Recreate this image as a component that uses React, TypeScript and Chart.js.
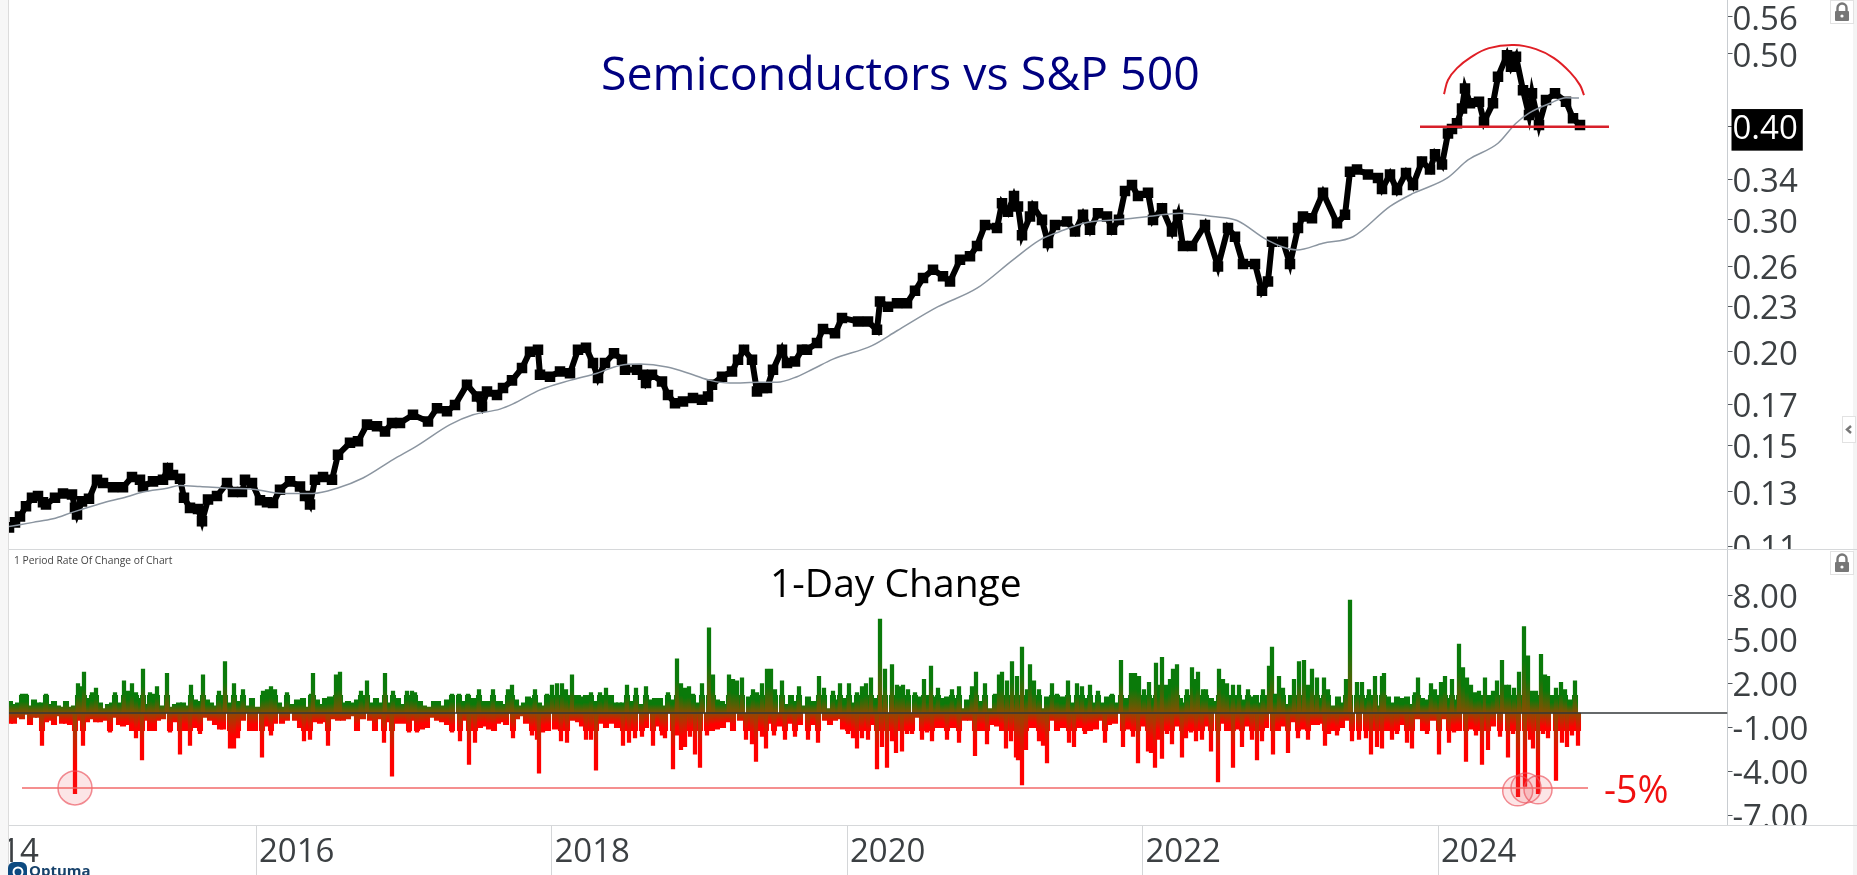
import React, { useEffect, useRef } from "react";
import { Chart, registerables } from "chart.js";

Chart.register(...registerables);

// x positions are session indexes on the chart's time axis
const yearTickLabels = ["2014", "2016", "2018", "2020", "2022", "2024"];
const yearTickSessions = [-39.5, 256, 551.5, 847, 1142.5, 1438];
const firstSession = 9;
const lastSession = 1727.5;

const priceTicks = [0.56, 0.5, 0.4, 0.34, 0.3, 0.26, 0.23, 0.2, 0.17, 0.15, 0.13, 0.11];
const changeTicks = [8, 5, 2, -1, -4, -7];

const ratioSeries: [number, number][] = [
  [9,.1165],[15,.1183],[20,.1205],[26,.1243],[32,.1276],[38,.1283],[43,.1259],[46,.1250],[55,.1276],[63,.1293],[72,.1289],[75,.1237],[77,.1212],[82,.1262],[89,.1272],[97,.1349],[103,.1335],[113,.1318],[123,.1318],[132,.1360],[140,.1349],[143,.1321],[153,.1342],[163,.1349],[168,.1398],[173,.1369],[180,.1353],[184,.1276],[190,.1237],[198,.1233],[202,.1187],[208,.1269],[217,.1283],[227,.1335],[233,.1299],[242,.1299],[245,.1349],[252,.1335],[260,.1266],[267,.1259],[273,.1256],[280,.1308],[290,.1342],[300,.1321],[305,.1283],[310,.1250],[315,.1349],[323,.1360],[332,.1349],[338,.1457],[350,.1511],[358,.1518],[367,.1598],[377,.1590],[385,.1565],[392,.1606],[400,.1606],[413,.1647],[428,.1614],[437,.1681],[447,.1665],[455,.1698],[467,.1807],[477,.1743],[482,.1690],[487,.1769],[497,.1751],
  [503,.1788],[512,.1831],[522,.1902],[530,.2000],[538,.2012],[540,.1863],[550,.1852],[560,.1882],[570,.1872],[578,.2012],[586,.2024],[593,.1931],[598,.1845],[605,.1931],[614,.1991],[622,.1951],[625,.1892],[637,.1892],[643,.1863],[646,.1816],[652,.1863],[662,.1825],[668,.1751],[675,.1707],[683,.1716],[693,.1735],[702,.1725],[708,.1743],[712,.1807],[722,.1852],[732,.1882],[738,.1951],[744,.2012],[752,.1951],[757,.1769],[763,.1788],[767,.1788],[773,.1892],[782,.2012],[787,.1931],[795,.1941],[802,.2012],[807,.2012],[817,.2054],[823,.2145],[835,.2116],[842,.2219],[858,.2195],[868,.2195],[877,.2139],[880,.2334],[888,.2297],[897,.2322],[907,.2322],[915,.2412],[923,.2508],[933,.2574],[943,.2522],[950,.2482],[960,.2653],[970,.2682],[977,.2769],[985,.2954],[997,.2925],[1002,.3158],[1008,.3077],[1014,.3228],[1018,.3127],[1022,.2861],[1030,.3031],[1033,.3127],[1042,.3000],[1048,.2795],[1055,.2954],[1067,.2985],[1075,.2895],[1083,.3047],[1090,.2910],[1098,.3062],[1107,.3031],[1112,.2910],[1119,.3000],[1125,.3278],[1132,.3339],[1138,.3228],[1148,.3260],[1153,.3000],[1162,.3108],[1172,.2895],[1178,.3047],[1183,.2769],[1192,.2769],[1205,.2954],[1218,.2599],[1228,.2925],[1235,.2848],[1243,.2620],[1255,.2620],[1262,.2412],[1268,.2482],[1272,.2805],[1283,.2805],[1290,.2620],[1298,.2925],[1303,.3031],[1312,.3015],[1323,.3260],[1337,.2970],[1345,.3047],[1350,.3478],[1357,.3503],[1368,.3450],[1378,.3413],[1382,.3300],[1390,.3450],[1397,.3288],[1406,.3466],[1413,.3339],[1422,.3590],[1430,.3503],[1435,.3670],[1442,.3558],[1448,.3914],[1452,.3968],[1457,.4039],[1462,.4226],[1465,.4495],[1470,.4294],[1479,.4315],[1484,.4058],[1493,.4294],[1498,.4660],[1507,.4979],[1511,.4805],[1516,.4954],[1523,.4471],[1529,.4142],[1532,.4427],[1539,.4016],[1546,.4337],[1555,.4427],[1566,.4315],[1573,.4100],[1580,.4016],
];

const averageSeries: [number, number][] = [
  [9,.1168],[33,.1183],[53,.1196],[73,.1221],[100,.1253],[127,.1280],[143,.1299],[167,.1314],[180,.1325],[200,.1321],[227,.1314],[253,.1310],[283,.1293],[313,.1293],[337,.1314],[363,.1356],[393,.1435],[417,.1497],[450,.1598],[473,.1647],[500,.1676],[513,.1703],[540,.1778],[570,.1831],[597,.1872],[620,.1917],[640,.1925],[667,.1908],[693,.1863],[710,.1831],[730,.1816],[760,.1820],[777,.1820],[797,.1852],[813,.1896],[833,.1955],[872,.2038],[897,.2133],[938,.2297],[977,.2431],[1013,.2653],[1040,.2821],[1060,.2895],[1087,.2976],[1117,.3000],[1153,.3037],[1180,.3062],[1213,.3031],[1237,.2994],[1267,.2821],[1297,.2735],[1323,.2792],[1353,.2848],[1390,.3127],[1413,.3254],[1447,.3410],[1468,.3607],[1498,.3797],[1516,.4039],[1529,.4167],[1550,.4294],[1566,.4368],[1579,.4364],
];

const domeArc: [number, number][] = [
  [1444,.4417],[1448,.4612],[1457,.4784],[1471,.4950],[1489,.5088],[1514,.5136],[1536,.5072],[1554,.4934],[1570,.4726],[1580,.4541],[1584,.4404],
];
const necklineSessions = [1420, 1609];
const necklineLevel = 0.3994;

const gainBars: [number, number][] = [
  [10,.8],[14,.6],[18,.7],[22,1.3],[26,1.3],[30,.5],[34,.9],[38,.7],[42,.7],[46,1.3],[50,.6],[54,.8],[58,.5],[62,.4],[66,.8],[70,.4],[74,.5],[78,2.0],[82,1.8],[84,2.8],[88,1.0],[92,1.4],[96,1.7],[100,.7],[104,.3],[108,.6],[112,.7],[115,1.4],[119,.7],[124,2.2],[128,1.5],[132,2.0],[136,1.4],[140,1.0],[143,3.0],[147,.6],[150,1.4],[154,1.3],[157,1.8],[162,.5],[167,2.7],[171,.4],[175,.6],[179,.7],[183,.7],[187,.5],[191,1.9],[195,.9],[199,.8],[203,2.6],[207,.9],[211,.7],[215,.5],[219,1.5],[223,.5],[225,3.5],[230,.7],[234,2.0],[238,.8],[243,1.6],[247,.5],[252,1.0],[257,.4],[263,1.5],[267,1.6],[271,1.8],[275,1.6],[279,.7],[283,.4],[287,1.4],[291,.6],[297,.9],[303,1.0],[307,.4],[311,1.3],[313,2.7],[317,.9],[320,.6],[325,1.0],[330,1.1],[336,2.6],[340,2.8],[343,.7],[348,.8],[353,.7],[357,.9],[361,1.5],[367,2.2],[371,.7],[376,1.0],[380,.7],[385,2.7],[389,.7],[393,1.5],[398,1.0],[403,.6],[407,1.5],[412,1.5],[415,1.4],[420,.8],[424,.5],[430,.4],[434,.8],[438,.8],[443,.5],[447,.9],[452,1.3],[459,1.3],[464,.8],[468,1.3],[473,1.0],[479,1.6],[483,.8],[488,.8],[493,1.6],[497,.8],
  [500,.8],[504,.6],[508,1.6],[512,1.9],[516,.9],[520,.5],[524,.7],[528,1.1],[532,1.0],[535,1.6],[539,.7],[543,.5],[547,1.3],[552,1.9],[557,2.0],[562,2.0],[566,1.6],[572,2.6],[575,.7],[578,1.2],[582,1.1],[586,1.2],[591,1.4],[595,.8],[600,1.4],[606,1.7],[611,1.2],[615,.7],[619,.7],[623,.7],[627,1.9],[632,.8],[636,1.7],[640,.6],[646,1.8],[650,.9],[655,1.0],[660,1.0],[664,.5],[668,1.4],[672,.9],[677,3.7],[681,2.0],[685,1.7],[689,1.8],[693,1.3],[697,.7],[702,2.0],[709,5.8],[713,2.6],[717,.9],[722,.8],[725,.6],[729,2.6],[733,2.3],[737,2.2],[742,2.4],[749,1.1],[753,1.6],[757,1.4],[762,2.0],[767,3.0],[771,3.0],[775,1.6],[782,2.2],[786,.6],[791,1.2],[795,.8],[799,1.8],[803,.5],[808,1.1],[813,.8],[819,2.5],
  [824,1.7],[828,.3],[833,1.5],[837,.9],[840,2.0],[844,1.0],[849,2.0],[853,.7],[857,1.4],[862,1.8],[866,2.0],[871,2.4],[875,1.0],[880,6.4],[885,3.0],[892,3.3],[897,1.9],[899,1.8],[903,1.9],[908,1.6],[915,1.4],[920,1.1],[924,2.3],[928,1.2],[931,3.2],[934,1.1],[938,1.7],[943,1.0],[947,1.1],[952,1.6],[957,1.0],[959,1.8],[963,.3],[967,.9],[972,1.8],[976,2.8],[980,.8],[985,2.0],[990,.3],[995,1.3],[999,2.6],[1002,2.8],[1007,2.2],[1012,3.5],[1017,2.5],[1022,4.5],[1027,1.6],[1030,3.3],[1034,2.2],[1039,1.6],[1043,.3],[1047,1.1],[1052,2.0],[1057,1.3],[1062,1.1],[1068,2.2],[1072,.7],[1077,2.0],[1082,1.8],[1086,1.0],[1090,1.9],[1095,.7],[1098,1.5],[1103,.7],[1107,1.1],[1112,1.3],[1117,.7],[1121,3.6],[1125,1.0],[1131,2.7],[1135,2.7],[1139,2.5],
  [1144,1.6],[1149,2.1],[1152,1.0],[1156,3.4],[1159,1.9],[1162,3.8],[1166,1.9],[1170,2.3],[1173,3.0],[1177,3.3],[1180,1.0],[1183,.7],[1187,1.6],[1192,3.1],[1195,2.3],[1198,2.8],[1203,1.6],[1206,1.6],[1211,1.0],[1215,.8],[1219,3.0],[1223,2.3],[1227,2.0],[1229,1.0],[1233,1.9],[1239,1.9],[1244,.9],[1248,1.6],[1252,1.1],[1256,1.2],[1260,.7],[1263,1.6],[1269,3.2],[1272,4.5],[1275,1.3],[1279,2.5],[1283,1.7],[1287,.6],[1291,1.2],[1294,2.3],[1299,3.5],[1304,3.6],[1308,1.9],[1312,3.0],[1317,2.4],[1319,1.0],[1324,2.4],[1328,1.6],[1333,.5],[1338,1.1],[1342,.7],[1346,2.3],[1350,7.7],[1357,2.1],[1362,2.1],[1366,1.0],[1369,1.6],[1375,2.5],[1378,.5],[1382,2.5],[1384,2.7],[1388,1.1],[1393,.7],[1397,1.1],[1402,1.0],[1407,1.1],[1412,.6],[1415,1.4],[1418,2.4],[1422,1.0],[1427,.9],[1431,2.0],[1435,1.6],[1441,2.1],[1445,2.5],[1448,1.0],[1452,2.3],[1457,.9],
  [1459,4.7],[1463,3.1],[1467,2.4],[1471,1.9],[1475,1.4],[1479,1.5],[1485,2.4],[1488,1.2],[1493,1.5],[1497,2.2],[1502,3.6],[1506,1.9],[1509,1.9],[1514,1.7],[1519,2.8],[1524,5.9],[1528,3.9],[1532,1.5],[1536,1.5],[1541,4.0],[1545,2.6],[1548,2.5],[1552,1.2],[1556,1.7],[1561,2.1],[1565,1.6],[1569,.9],[1575,2.2],
];

const lossBars: [number, number][] = [
  [10,-.7],[14,-.7],[18,-.3],[22,-.4],[26,-.1],[30,-.8],[34,-.3],[38,-.3],[42,-2.2],[46,-.6],[50,-.5],[54,-.8],[58,-.2],[62,-.7],[66,-.7],[70,-.8],[75,-5.5],[78,-.5],[83,-2.2],[87,-.6],[91,-.4],[96,-.6],[100,-.6],[104,-.5],[110,-1.3],[115,-.3],[119,-.8],[123,-.9],[128,-.8],[132,-1.2],[136,-1.7],[142,-3.2],[147,-.5],[150,-1.2],[154,-1.2],[158,-.5],[163,-.4],[170,-1.3],[174,-.6],[180,-2.8],[184,-1.2],[190,-2.2],[195,-1.0],[200,-1.4],[205,-.3],[210,-.5],[215,-.8],[220,-1.1],[223,-1.1],[230,-2.4],[234,-2.4],[238,-1.7],[243,-.5],[250,-1.2],[255,-1.2],[262,-3.0],[267,-.9],[271,-1.5],[275,-.7],[282,-.7],[287,-.5],[295,-.5],[300,-1.0],[304,-1.9],[310,-1.8],[315,-.6],[320,-.7],[323,-.6],[328,-2.2],[333,-.4],[338,-.5],[343,-.5],[348,-.4],[353,-.2],[357,-1.2],[363,-.4],[370,-.5],[375,-1.2],[380,-.4],[384,-2.0],[388,-.6],[392,-4.3],[397,-.7],[403,-.7],[409,-1.3],[413,-.5],[417,-1.3],[422,-1.1],[427,-1.0],[432,-.3],[437,-.5],[442,-.6],[447,-.8],[452,-1.3],[460,-1.9],[465,-.5],[469,-3.5],[475,-2.0],[480,-1.0],[485,-.9],[489,-1.1],[494,-1.2],[498,-.7],
  [500,-.6],[506,-.8],[513,-1.7],[517,-.4],[522,-.2],[526,-.7],[532,-1.5],[537,-1.8],[539,-4.1],[543,-1.3],[548,-1.2],[555,-1.1],[561,-1.9],[567,-2.0],[572,-.5],[578,-.6],[582,-.9],[586,-1.8],[591,-1.8],[596,-3.9],[602,-.7],[606,-1.0],[612,-.7],[617,-1.0],[623,-2.2],[629,-2.0],[635,-1.7],[642,-1.6],[646,-1.0],[653,-2.2],[657,-.9],[662,-1.5],[665,-1.7],[673,-3.8],[677,-1.5],[681,-2.5],[685,-2.3],[690,-1.6],[695,-2.8],[700,-3.7],[707,-1.5],[712,-1.2],[717,-1.1],[723,-1.0],[728,-.6],[733,-1.2],[740,-.5],[746,-1.8],[752,-2.1],[756,-3.3],[762,-1.6],[766,-2.4],[770,-.7],[774,-1.5],[780,-.9],[785,-1.8],[790,-.7],[795,-1.6],[800,-.8],[808,-1.8],[813,-.8],[818,-2.0],
  [825,-.5],[830,-.8],[835,-.5],[839,-.4],[843,-1.1],[848,-1.4],[853,-1.7],[857,-2.4],[862,-1.7],[868,-1.8],[873,-.8],[877,-3.8],[882,-2.3],[887,-3.7],[892,-1.9],[896,-2.7],[902,-2.6],[907,-1.4],[912,-1.4],[917,-.3],[922,-1.8],[927,-1.3],[932,-1.9],[937,-1.0],[942,-1.0],[947,-1.8],[953,-1.0],[959,-2.0],[965,-.5],[970,-.5],[975,-2.9],[981,-1.2],[987,-2.1],[992,-.8],[997,-.9],[1002,-1.2],[1006,-2.4],[1011,-1.9],[1016,-3.0],[1018,-3.2],[1022,-4.9],[1026,-2.5],[1031,-1.0],[1036,-1.0],[1039,-1.9],[1043,-2.2],[1047,-3.4],[1052,-.5],[1057,-1.2],[1063,-1.0],[1069,-2.0],[1074,-2.3],[1079,-1.0],[1085,-1.4],[1090,-1.2],[1096,-1.1],[1101,-.5],[1105,-2.0],[1109,-.8],[1115,-.7],[1123,-2.3],[1128,-1.1],[1133,-1.6],[1138,-3.4],
  [1143,-.9],[1148,-2.6],[1151,-2.7],[1155,-3.7],[1158,-1.8],[1162,-3.1],[1167,-1.4],[1172,-2.1],[1177,-.9],[1182,-3.0],[1186,-1.7],[1191,-1.3],[1196,-1.9],[1202,-1.8],[1206,-.9],[1211,-2.6],[1218,-4.7],[1222,-.7],[1227,-1.2],[1233,-3.7],[1237,-1.1],[1242,-2.3],[1248,-.9],[1252,-1.8],[1257,-3.2],[1262,-1.9],[1266,-1.0],[1273,-2.8],[1278,-1.2],[1283,-.9],[1288,-2.7],[1293,-.6],[1298,-1.7],[1303,-1.1],[1308,-1.8],[1312,-.8],[1317,-.8],[1320,-.7],[1325,-2.2],[1329,-1.4],[1333,-1.2],[1337,-1.5],[1342,-1.0],[1347,-.5],[1352,-1.9],[1359,-1.8],[1366,-1.7],[1371,-2.8],[1377,-2.3],[1382,-2.4],[1387,-1.2],[1392,-1.8],[1397,-1.4],[1403,-.8],[1407,-2.0],[1412,-2.4],[1417,-.4],[1423,-1.2],[1427,-1.4],[1433,-.5],[1439,-2.8],[1443,-.4],[1449,-2.0],[1454,-1.3],
  [1459,-1.2],[1466,-3.3],[1470,-1.1],[1476,-1.5],[1482,-3.5],[1488,-2.5],[1493,-.9],[1500,-1.6],[1508,-3.0],[1513,-1.4],[1518,-5.7],[1525,-5.0],[1530,-1.8],[1533,-2.4],[1538,-5.5],[1543,-1.4],[1548,-1.7],[1556,-4.6],[1562,-2.0],[1567,-2.3],[1572,-1.5],[1578,-2.2],
];

const thresholdLevel = -5.1;
const thresholdSessions = [22, 1588];
const zeroSessions = [9, 1727.5];
const thresholdHits = [
  { x: 75, y: -5.1, r: 17 },
  { x: 1517.7, y: -5.3, r: 15 },
  { x: 1526, y: -5.1, r: 15 },
  { x: 1538, y: -5.23, r: 14 },
];

const FONT = "'Open Sans'";
const TICK_COLOR = "#3c4043";
const AXIS_COLOR = "#c9cdd1";
const SHOULDER = 1.2;
const pairs = (s: [number, number][]) => s.map(([x, y]) => ({ x, y }));
const tallBars = (s: [number, number][]) => pairs(s.filter(([, v]) => Math.abs(v) >= SHOULDER));
// every session keeps a wider foot near zero, which is what makes the band look solid
const barFeet = (s: [number, number][]) =>
  s.map(([x, v]) => ({ x, y: Math.max(-SHOULDER, Math.min(SHOULDER, v)) }));

function barFill(c: any) {
  if (!c.parsed) return "#0a7a0a";
  const { ctx, scales } = c.chart;
  const v = c.parsed.y;
  const s = scales.y;
  const base = s.getPixelForValue(0);
  if (!Number.isFinite(base)) return v >= 0 ? "#0a7a0a" : "#ff0000";
  if (v >= 0) {
    const g = ctx.createLinearGradient(0, base, 0, s.getPixelForValue(Math.max(0.6, v * 0.6)));
    g.addColorStop(0, "#8a4d00");
    g.addColorStop(1, "#0a7a0a");
    return g;
  }
  const g = ctx.createLinearGradient(0, base, 0, s.getPixelForValue(Math.min(-0.6, v * 0.65)));
  g.addColorStop(0, "#8f4a00");
  g.addColorStop(1, "#ff0000");
  return g;
}

// the reference clips its outer tick labels at the pane edge, so they must not reserve room
const noLabelPadding = (s: any) => {
  s._calculatePadding = () => {
    s.paddingTop = 0;
    s.paddingBottom = 0;
    s.paddingLeft = 0;
    s.paddingRight = 0;
  };
};

const valueAxis = (ticks: number[], extra: any) => ({
  position: "right",
  beforeFit: noLabelPadding,
  afterFit: (s: any) => {
    s.width = 1857 - lastSession;
  },
  afterBuildTicks: (s: any) => {
    s.ticks = ticks.map((value) => ({ value }));
  },
  border: { color: AXIS_COLOR, width: 1 },
  grid: { drawOnChartArea: false, tickLength: 5, color: "#555b60", tickWidth: 1 },
  ...extra,
});

const Lock = ({ top }: { top: number }) => (
  <div style={{ position: "absolute", left: 1830, top, width: 24, height: 24, background: "#fff", border: "1px solid #e2e2e2", boxSizing: "border-box" }}>
    <svg width="22" height="22" viewBox="0 0 22 22" style={{ display: "block" }}>
      <path d="M6.5 10V7a4.5 4.5 0 0 1 9 0v3" fill="none" stroke="#777" strokeWidth="2.4" />
      <rect x="4" y="10" width="14" height="10" rx="1" fill="#777" />
      <circle cx="11" cy="15" r="1.6" fill="#fff" />
    </svg>
  </div>
);

const Label = ({ left, top, size, color, children }: any) => (
  <div style={{ position: "absolute", left, top, fontFamily: FONT, fontSize: size, color, whiteSpace: "nowrap", lineHeight: 1 }}>{children}</div>
);

export default function App() {
  const priceRef = useRef<HTMLCanvasElement>(null);
  const changeRef = useRef<HTMLCanvasElement>(null);
  const timeRef = useRef<HTMLCanvasElement>(null);

  useEffect(() => {
    document.body.style.margin = "0";
    const shared = { responsive: false, animation: false as const, devicePixelRatio: 1, events: [] as string[], layout: { padding: { left: firstSession }, autoPadding: false } };
    const legendless = { legend: { display: false }, tooltip: { enabled: false } };
    const hiddenX = { type: "linear", min: firstSession, max: lastSession, display: false, offset: false };
    const tickFont = { family: FONT, size: 33 };

    const price = new Chart(priceRef.current!, {
      type: "line",
      data: {
        datasets: [
          { data: pairs(ratioSeries), borderColor: "#000", backgroundColor: "#000", borderWidth: 6, pointStyle: "rect", pointRadius: 3.2, borderJoinStyle: "miter", order: 3 },
          { data: pairs(averageSeries), borderColor: "#8b95a0", borderWidth: 1.5, pointRadius: 0, cubicInterpolationMode: "monotone", order: 2 },
          { data: pairs(domeArc), borderColor: "#e01f26", borderWidth: 2, pointRadius: 0, tension: 0.4, order: 1 },
          { data: necklineSessions.map((x) => ({ x, y: necklineLevel })), borderColor: "#d8202a", borderWidth: 2.5, pointRadius: 0, order: 0 },
        ],
      },
      options: {
        ...shared,
        plugins: legendless,
        scales: {
          x: hiddenX,
          y: valueAxis(priceTicks, {
            type: "logarithmic",
            min: 0.109,
            max: 0.59,
            ticks: {
              autoSkip: false,
              padding: 0,
              labelOffset: 3.5,
              font: tickFont,
              color: (c: any) => (c.tick && c.tick.value === 0.4 ? "#fff" : TICK_COLOR),
              showLabelBackdrop: (c: any) => !!c.tick && c.tick.value === 0.4,
              backdropColor: "#000",
              backdropPadding: { top: 1, bottom: 1, left: 1, right: 5 },
              callback: (v: any) => Number(v).toFixed(2),
            },
          }),
        },
      },
    } as any);

    const change = new Chart(changeRef.current!, {
      type: "bar",
      data: {
        datasets: [
          { type: "line", data: thresholdSessions.map((x) => ({ x, y: thresholdLevel })), borderColor: "#f26a6a", borderWidth: 1.5, pointRadius: 0, order: 0 },
          { type: "bubble", data: thresholdHits, backgroundColor: "rgba(235,70,80,0.14)", borderColor: "rgba(235,80,90,0.65)", borderWidth: 1.5, order: 1 },
          { type: "line", data: zeroSessions.map((x) => ({ x, y: 0 })), borderColor: "#33373a", borderWidth: 1.5, pointRadius: 0, order: 2 },
          { data: tallBars(lossBars), backgroundColor: barFill, barThickness: 3.6, grouped: false, order: 3 },
          { data: tallBars(gainBars), backgroundColor: barFill, barThickness: 3.6, grouped: false, order: 4 },
          { data: barFeet(lossBars), backgroundColor: barFill, barThickness: 5.4, grouped: false, order: 5 },
          { data: barFeet(gainBars), backgroundColor: barFill, barThickness: 5.4, grouped: false, order: 6 },
        ],
      },
      options: {
        ...shared,
        plugins: legendless,
        scales: {
          x: hiddenX,
          y: valueAxis(changeTicks, {
            type: "linear",
            min: -7.63,
            max: 11.18,
            ticks: { autoSkip: false, padding: 0, labelOffset: 3, font: tickFont, color: TICK_COLOR, callback: (v: any) => Number(v).toFixed(2) },
          }),
        },
      },
    } as any);

    const time = new Chart(timeRef.current!, {
      type: "line",
      data: { datasets: [] },
      options: {
        ...shared,
        layout: { padding: { right: 1857 - lastSession }, autoPadding: false },
        plugins: legendless,
        scales: {
          y: { display: false },
          x: {
            type: "linear",
            min: firstSession,
            max: lastSession,
            position: "bottom",
            beforeFit: noLabelPadding,
            afterFit: (s: any) => {
              s.height = 49;
            },
            afterBuildTicks: (s: any) => {
              s.ticks = yearTickSessions.map((value) => ({ value }));
            },
            border: { display: false },
            grid: { drawOnChartArea: false, tickLength: 50, color: "#d4d6d8" },
            ticks: {
              autoSkip: false,
              maxRotation: 0,
              minRotation: 0,
              align: "start",
              labelOffset: 3,
              padding: -43,
              font: tickFont,
              color: TICK_COLOR,
              callback: (v: any) => yearTickLabels[yearTickSessions.indexOf(v)],
            },
          },
        },
      },
    } as any);

    return () => {
      price.destroy();
      change.destroy();
      time.destroy();
    };
  }, []);

  return (
    <div style={{ position: "fixed", left: 0, top: 0, width: 1857, height: 875, overflow: "hidden", background: "#fff" }}>
      <canvas ref={priceRef} width={1857} height={549} style={{ position: "absolute", left: 0, top: 0 }} />
      <canvas ref={changeRef} width={1857} height={276} style={{ position: "absolute", left: 0, top: 549 }} />
      <canvas ref={timeRef} width={1848} height={50} style={{ position: "absolute", left: 9, top: 825 }} />

      <div style={{ position: "absolute", left: 0, top: 0, width: 8, height: 875, background: "#f7f7f7" }} />
      <div style={{ position: "absolute", left: 8, top: 0, width: 1, height: 875, background: "#dcdcdc" }} />
      <div style={{ position: "absolute", left: 1853, top: 0, width: 4, height: 875, background: "#f4f4f4" }} />
      <div style={{ position: "absolute", left: 9, top: 549, width: 1848, height: 1, background: "#d6d8da" }} />
      <div style={{ position: "absolute", left: 9, top: 825, width: 1848, height: 1, background: "#d6d8da" }} />

      <Label left={601} top={49} size={46.5} color="#000080">Semiconductors vs S&amp;P 500</Label>
      <Label left={770} top={562} size={39} color="#000">1-Day Change</Label>
      <Label left={14} top={555} size={10.3} color="#444">1 Period Rate Of Change of Chart</Label>
      <Label left={1604} top={770} size={37.5} color="#f01010">-5%</Label>

      <Lock top={0} />
      <Lock top={551} />
      <div style={{ position: "absolute", left: 1842, top: 416, width: 14, height: 27, background: "#fff", border: "1px solid #e2e2e2", boxSizing: "border-box" }}>
        <svg width="12" height="25" viewBox="0 0 12 25" style={{ display: "block" }}>
          <path d="M8 9 L4 12.5 L8 16" fill="none" stroke="#777" strokeWidth="2.4" />
        </svg>
      </div>

      <div style={{ position: "absolute", left: 8, top: 862, width: 19, height: 13, background: "#0d4a80", borderRadius: "6px 6px 0 0", overflow: "hidden" }}>
        <svg width="19" height="13" viewBox="0 0 19 13" style={{ display: "block" }}>
          <circle cx="10" cy="10" r="4.5" fill="none" stroke="#fff" strokeWidth="2" />
        </svg>
      </div>
      <Label left={29} top={863} size={15} color="#17426b"><b>Optuma</b></Label>
    </div>
  );
}
